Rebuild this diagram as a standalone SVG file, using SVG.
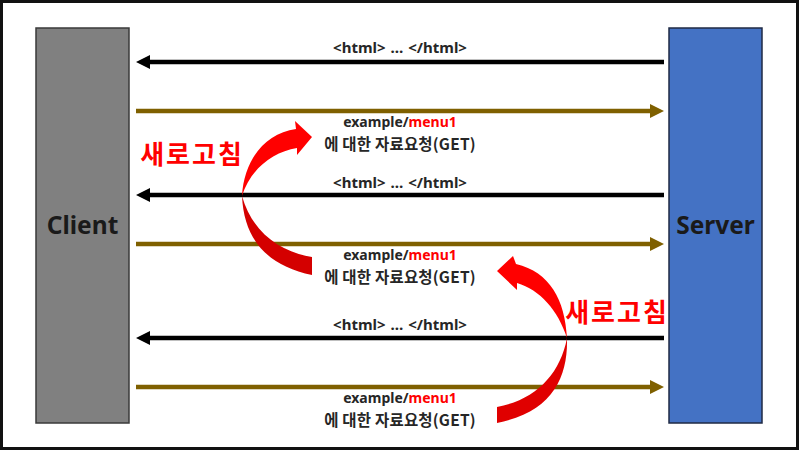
<svg xmlns="http://www.w3.org/2000/svg" width="800" height="453" viewBox="0 0 800 453">
  <defs>
    <style>
      .lbl { font-family: "Noto Sans", "Noto Sans CJK KR", sans-serif; font-weight: bold; fill: #262626; text-anchor: middle; }
      .sm { font-size: 14px; }
      .ht { font-size: 15px; word-spacing: 1px; }
      .kr { font-size: 15.5px; font-family: "Noto Sans CJK KR", sans-serif; letter-spacing: 0.2px; }
      .red { fill: #FF0000; }
      .node { font-family: "Noto Sans", sans-serif; font-weight: bold; font-size: 24.5px; fill: #1a1a1a; text-anchor: middle; }
      .refresh { font-family: "Noto Sans CJK KR", sans-serif; font-weight: bold; font-size: 26px; letter-spacing: 2px; fill: #FF0000; text-anchor: middle; }
      .blk { stroke: #000; stroke-width: 4.5; fill: none; }
      .gold { stroke: #7F6000; stroke-width: 4.5; fill: none; }
    </style>
    <marker id="hBlack" markerUnits="userSpaceOnUse" markerWidth="16" markerHeight="16" refX="0" refY="7" orient="auto" overflow="visible">
      <path d="M0,0 L14,7 L0,14 Z" fill="#000"/>
    </marker>
    <marker id="hGold" markerUnits="userSpaceOnUse" markerWidth="16" markerHeight="16" refX="0" refY="7" orient="auto" overflow="visible">
      <path d="M0,0 L14,7 L0,14 Z" fill="#7F6000"/>
    </marker>
  </defs>

  <rect x="1.5" y="1.5" width="796" height="447" fill="#fff" stroke="#111" stroke-width="3"/>

  <g id="client">
    <rect x="36" y="28" width="93" height="395" fill="#808080" stroke="#3a3a3a" stroke-width="1.5"/>
    <text class="node" x="82.5" y="234">Client</text>
  </g>

  <g id="server">
    <rect x="669" y="28" width="93" height="395" fill="#4472C4" stroke="#1f2a44" stroke-width="1.5"/>
    <text class="node" x="715.5" y="234">Server</text>
  </g>

  <g id="connectors">
    <line class="blk" x1="664" y1="62" x2="150" y2="62" marker-end="url(#hBlack)"/>
    <line class="gold" x1="136" y1="111" x2="650" y2="111" marker-end="url(#hGold)"/>
    <line class="blk" x1="664" y1="195" x2="150" y2="195" marker-end="url(#hBlack)"/>
    <line class="gold" x1="136" y1="244" x2="650" y2="244" marker-end="url(#hGold)"/>
    <line class="blk" x1="664" y1="338" x2="150" y2="338" marker-end="url(#hBlack)"/>
    <line class="gold" x1="136" y1="387" x2="650" y2="387" marker-end="url(#hGold)"/>
  </g>

  <g id="labels">
    <text class="lbl ht" x="400" y="53">&lt;html&gt; … &lt;/html&gt;</text>
    <text class="lbl sm" x="400" y="127">example/<tspan class="red">menu1</tspan></text>
    <text class="lbl kr" x="400" y="149.5">에 대한 자료요청(GET)</text>

    <text class="lbl ht" x="400" y="188">&lt;html&gt; … &lt;/html&gt;</text>
    <text class="lbl sm" x="400" y="260">example/<tspan class="red">menu1</tspan></text>
    <text class="lbl kr" x="400" y="282.5">에 대한 자료요청(GET)</text>

    <text class="lbl ht" x="400" y="330">&lt;html&gt; … &lt;/html&gt;</text>
    <text class="lbl sm" x="400" y="403">example/<tspan class="red">menu1</tspan></text>
    <text class="lbl kr" x="400" y="425.5">에 대한 자료요청(GET)</text>
  </g>

  <g id="refresh1">
    <path d="M242,196 C244,240 268,266 312,275 L312,257 C280,252 252,232 242,196 Z" fill="#D40000"/>
    <path d="M242,196 C244,160 265,133 296,129 L295,121 L312,137 L297,155 L297,148 C272,152 250,170 242,196 Z" fill="#FF0000"/>
    <text class="refresh" x="192" y="164">새로고침</text>
  </g>

  <g id="refresh2">
    <path d="M567,338 C568,378 552,412 497,423 L497,407 C535,400 560,375 567,338 Z" fill="#E00000"/>
    <path d="M567,338 C565,300 550,272 516,264 L513,256 L497,271 L517,290 L517,283 C540,290 558,310 567,338 Z" fill="#FF0000"/>
    <text class="refresh" x="617" y="322">새로고침</text>
  </g>
</svg>
